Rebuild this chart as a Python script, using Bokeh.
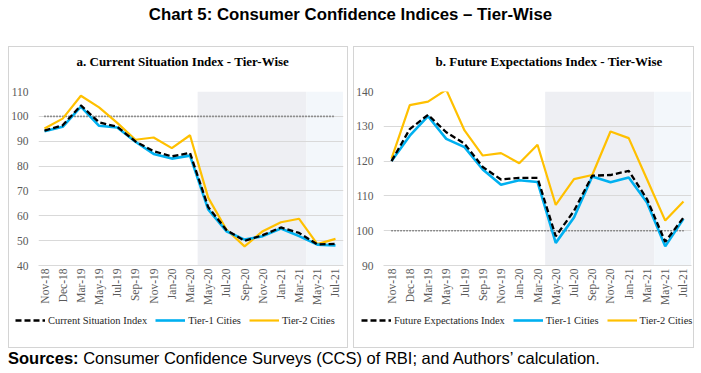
import numpy as np
from bokeh.plotting import figure
from bokeh.models import (FixedTicker, BoxAnnotation, Legend, LegendItem, Div,
                          Range1d, Title, Spacer)
from bokeh.layouts import column, row
from bokeh.embed import file_html
from bokeh.resources import INLINE

# ---------------- data ----------------
months = ["Nov-18", "Dec-18", "Mar-19", "May-19", "Jul-19", "Sep-19", "Nov-19",
          "Jan-20", "Mar-20", "May-20", "Jul-20", "Sep-20", "Nov-20", "Jan-21",
          "Mar-21", "May-21", "Jul-21"]

csi = [94.3, 96.4, 104.4, 97.6, 95.8, 89.9, 86.0, 83.9, 85.3, 63.5, 54.3,
       49.9, 52.2, 55.3, 53.1, 48.5, 48.7]
csi_tier1 = [94.0, 95.8, 103.9, 96.2, 95.5, 89.8, 84.9, 83.0, 84.2, 62.6, 53.8,
             50.4, 51.8, 54.9, 51.8, 48.4, 48.1]
csi_tier2 = [95.1, 99.1, 108.3, 103.6, 97.4, 90.6, 91.5, 87.2, 92.4, 67.3, 54.5,
             47.7, 53.8, 57.4, 58.8, 48.6, 50.7]

fei = [120.0, 129.2, 133.3, 128.3, 125.0, 118.3, 114.7, 115.2, 115.2, 98.4,
       105.7, 115.8, 116.0, 117.2, 109.1, 96.8, 103.8]
fei_tier1 = [120.0, 127.3, 132.9, 126.4, 124.0, 117.6, 113.2, 114.5, 114.0,
             96.5, 103.8, 115.6, 113.9, 115.3, 108.1, 95.5, 103.4]
fei_tier2 = [120.7, 136.1, 137.1, 140.5, 128.8, 121.6, 122.3, 119.4, 124.7,
             107.4, 114.8, 116.0, 128.5, 126.6, 114.8, 102.9, 108.4]

neutral_level = 100
csi_ticks = [40, 50, 60, 70, 80, 90, 100, 110]
fei_ticks = [90, 100, 110, 120, 130, 140]
wave1_start, wave2_start = "May-20", "May-21"

# ---------------- style ----------------
SERIF = "Liberation Serif"
C_T1 = "#00B0F0"
C_T2 = "#FFC000"
C_IDX = "#000000"
GRID = "#D9D9D9"
SHADE1 = "#EEEFF3"
SHADE2 = "#F3F7FB"
IDX_STYLE = dict(line_color=C_IDX, line_width=2.3, line_dash="6 3")
T1_STYLE = dict(line_color=C_T1, line_width=2.6)
T2_STYLE = dict(line_color=C_T2, line_width=2.2)

x = list(range(len(months)))


def panel(title, idx, t1, t2, idx_label, ticks, xr, left, right, fw,
          title_off, leg_x):
    p = figure(frame_width=fw, frame_height=174, output_backend="svg",
               toolbar_location=None,
               x_range=Range1d(*xr), y_range=Range1d(ticks[0], ticks[-1]),
               min_border_left=left, min_border_right=right,
               min_border_top=45, min_border_bottom=39,
               outline_line_color=None, background_fill_color="white",
               border_fill_color=None)
    # spacer then title (first added sits nearest the frame)
    p.add_layout(Title(text=" ", text_font_size="14px", standoff=0), "above")
    p.add_layout(Title(text=title, text_font=SERIF, text_font_size="13px",
                       text_font_style="bold", text_color="#000000",
                       align="left", offset=title_off), "above")

    # shaded periods
    s1 = months.index(wave1_start) - 0.58
    s2 = months.index(wave2_start) - 0.6
    p.add_layout(BoxAnnotation(left=s1, right=s2,
                               fill_color=SHADE1, fill_alpha=1,
                               line_color=None, level="image"))
    p.add_layout(BoxAnnotation(left=s2, right=xr[1] - 0.02,
                               fill_color=SHADE2, fill_alpha=1,
                               line_color=None, level="image"))

    # neutral reference
    p.segment(x0=[x[0]], x1=[x[-1]], y0=[neutral_level], y1=[neutral_level],
              line_color="#404040", line_width=1.6, line_dash="1 2")

    p.line(x, t2, **T2_STYLE)
    p.line(x, t1, **T1_STYLE)
    p.line(x, idx, **IDX_STYLE)

    # axes
    p.xaxis.ticker = FixedTicker(ticks=x)
    p.xaxis.major_label_overrides = {i: m for i, m in enumerate(months)}
    p.xaxis.major_label_orientation = np.pi / 2
    p.xaxis.major_tick_line_color = None
    p.xaxis.major_tick_out = 0
    p.xaxis.major_tick_in = 0
    p.xaxis.minor_tick_line_color = None
    p.xaxis.axis_line_color = GRID
    p.xaxis.major_label_standoff = 3
    p.xaxis.major_label_text_font = SERIF
    p.xaxis.major_label_text_font_size = "11.5px"
    p.xaxis.major_label_text_color = "#595959"

    p.yaxis.ticker = FixedTicker(ticks=ticks)
    p.yaxis.major_tick_line_color = None
    p.yaxis.major_tick_out = 0
    p.yaxis.major_tick_in = 0
    p.yaxis.minor_tick_line_color = None
    p.yaxis.axis_line_color = None
    p.yaxis.major_label_standoff = 10
    p.yaxis.major_label_text_font = SERIF
    p.yaxis.major_label_text_font_size = "11.5px"
    p.yaxis.major_label_text_color = "#595959"

    p.xgrid.visible = False
    p.ygrid.grid_line_color = GRID
    p.ygrid.grid_line_width = 1

    # legend strip below the chart (series drawn off-view, keys only shown)
    lf = figure(width=340, height=41, output_backend="svg",
                toolbar_location=None, x_range=Range1d(0, 1),
                y_range=Range1d(0, 1), min_border=0,
                x_axis_location=None, y_axis_location=None,
                outline_line_color=None, background_fill_color=None,
                border_fill_color=None, frame_align=False)
    lf.grid.visible = False
    g0 = lf.line(x, idx, **IDX_STYLE)
    g1 = lf.line(x, t1, **T1_STYLE)
    g2 = lf.line(x, t2, **T2_STYLE)
    legend = Legend(items=[LegendItem(label=idx_label, renderers=[g0]),
                           LegendItem(label="Tier-1 Cities", renderers=[g1]),
                           LegendItem(label="Tier-2 Cities", renderers=[g2])],
                    orientation="horizontal", location=(leg_x, 22),
                    glyph_width=30, glyph_height=12, label_height=12,
                    label_standoff=3, spacing=8, padding=2, margin=0,
                    border_line_color=None, background_fill_alpha=0,
                    label_text_font=SERIF, label_text_font_size="10.5px",
                    label_text_color="#262626")
    lf.add_layout(legend)
    return column(p, lf, spacing=0,
                  styles={"outline": "1.5px solid #D4D4D4",
                          "outline-offset": "-1.5px"})


pa = panel("a. Current Situation Index - Tier-Wise", csi, csi_tier1, csi_tier2,
           "Current Situation Index", csi_ticks, (-0.33, 16.44), 30, 5, 305,
           38, 7)
pb = panel("b. Future Expectations Index - Tier-Wise", fei, fei_tier1,
           fei_tier2, "Future Expectations Index", fei_ticks, (-0.44, 16.44),
           29, 3, 308, 52, 8)

title_div = Div(text="Chart 5: Consumer Confidence Indices \u2013 Tier-Wise",
                width=685, height=38, margin=(0, 0, 0, 0),
                styles={"font-family": "Liberation Sans", "font-weight": "bold",
                        "font-size": "16.8px", "text-align": "center",
                        "line-height": "14px", "color": "#000000",
                        "width": "685px"})
src_div = Div(text="<b>Sources:</b> Consumer Confidence Surveys (CCS) of RBI; "
                   "and Authors\u2019 calculation.",
              width=685, height=20, margin=(0, 0, 0, 0),
              styles={"font-family": "Liberation Sans", "font-size": "16.5px",
                      "line-height": "20px", "color": "#000000"})

layout = row(Spacer(width=8),
             column(Spacer(height=8), title_div, row(pa, pb, spacing=5),
                    src_div, spacing=0),
             spacing=0)

open("out.html", "w").write(file_html(layout, INLINE))
